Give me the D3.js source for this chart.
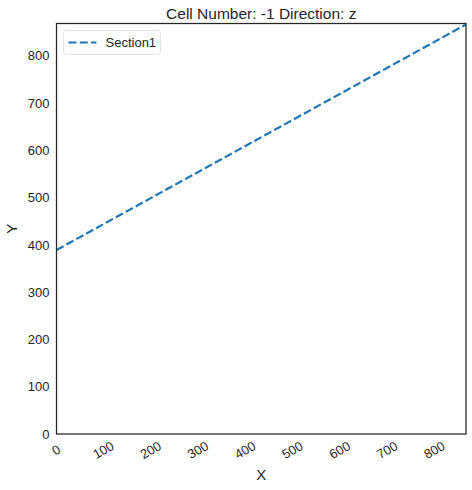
<!DOCTYPE html>
<html>
<head>
<meta charset="utf-8">
<script src="https://cdn.jsdelivr.net/npm/d3@7"></script>
<style>
  body { margin: 0; background: #fff; }
  text { font-family: "Liberation Sans", Arial, sans-serif; fill: #262626; }
</style>
</head>
<body>
<div id="chart"></div>
<script>
// Data for the line
var sectionX = [0, 866];
var sectionY = [389, 866];
var xTicks = [0, 100, 200, 300, 400, 500, 600, 700, 800];
var yTicks = [0, 100, 200, 300, 400, 500, 600, 700, 800];

var width = 472;
var height = 490;
var margin = { top: 23.5, right: 6, bottom: 56, left: 56.5 };
var plotW = width - margin.left - margin.right;
var plotH = height - margin.top - margin.bottom;

var x = d3.scaleLinear().domain([0, 866]).range([0, plotW]);
var y = d3.scaleLinear().domain([0, 868]).range([plotH, 0]);

var svg = d3.select("#chart")
    .append("svg")
    .attr("width", width)
    .attr("height", height);

var g = svg.append("g")
    .attr("transform", "translate(" + margin.left + "," + margin.top + ")");

g.append("clipPath").attr("id", "clip")
    .append("rect").attr("width", plotW).attr("height", plotH);

// Line
var points = sectionX.map(function (d, i) { return [d, sectionY[i]]; });
var line = d3.line()
    .x(function (d) { return x(d[0]); })
    .y(function (d) { return y(d[1]); });

g.append("path")
    .datum(points)
    .attr("clip-path", "url(#clip)")
    .attr("d", line)
    .style("fill", "none")
    .style("stroke", "#1f77b4")
    .style("stroke-width", 2.2)
    .style("stroke-dasharray", "8,3.3");

// Axes (no tick marks, seaborn white style)
var xAxis = g.append("g")
    .attr("transform", "translate(0," + plotH + ")")
    .call(d3.axisBottom(x).tickValues(xTicks).tickSize(0).tickPadding(0));
xAxis.select(".domain").remove();
xAxis.selectAll("text")
    .style("font-size", "13px")
    .attr("text-anchor", "middle")
    .attr("y", 0)
    .attr("dy", "0.35em")
    .attr("transform", "translate(-1,16) rotate(-30)");

var yAxis = g.append("g")
    .call(d3.axisLeft(y).tickValues(yTicks).tickSize(0).tickPadding(7));
yAxis.select(".domain").remove();
yAxis.selectAll("text").style("font-size", "13px");

// Frame
g.append("rect")
    .attr("width", plotW)
    .attr("height", plotH)
    .style("fill", "none")
    .style("stroke", "#262626")
    .style("stroke-width", 1.25);

// Title and axis labels
svg.append("text")
    .attr("x", margin.left + plotW / 2)
    .attr("y", 18.5)
    .attr("text-anchor", "middle")
    .style("font-size", "15.5px")
    .text("Cell Number: -1 Direction: z");

svg.append("text")
    .attr("x", margin.left + plotW / 2)
    .attr("y", 480)
    .attr("text-anchor", "middle")
    .style("font-size", "15px")
    .text("X");

svg.append("text")
    .attr("transform", "translate(17," + (margin.top + plotH / 2) + ") rotate(-90)")
    .attr("text-anchor", "middle")
    .style("font-size", "15px")
    .text("Y");

// Legend
var legend = g.append("g").attr("transform", "translate(7,7)");
legend.append("rect")
    .attr("width", 97)
    .attr("height", 24)
    .attr("rx", 3)
    .style("fill", "#fff")
    .style("stroke", "#e5e5e5")
    .style("stroke-width", 1);
legend.append("line")
    .attr("x1", 5).attr("x2", 33)
    .attr("y1", 12).attr("y2", 12)
    .style("stroke", "#1f77b4")
    .style("stroke-width", 2.2)
    .style("stroke-dasharray", "8,3.3");
legend.append("text")
    .attr("x", 42)
    .attr("y", 12)
    .attr("dy", "0.35em")
    .style("font-size", "13px")
    .text("Section1");
</script>
</body>
</html>
